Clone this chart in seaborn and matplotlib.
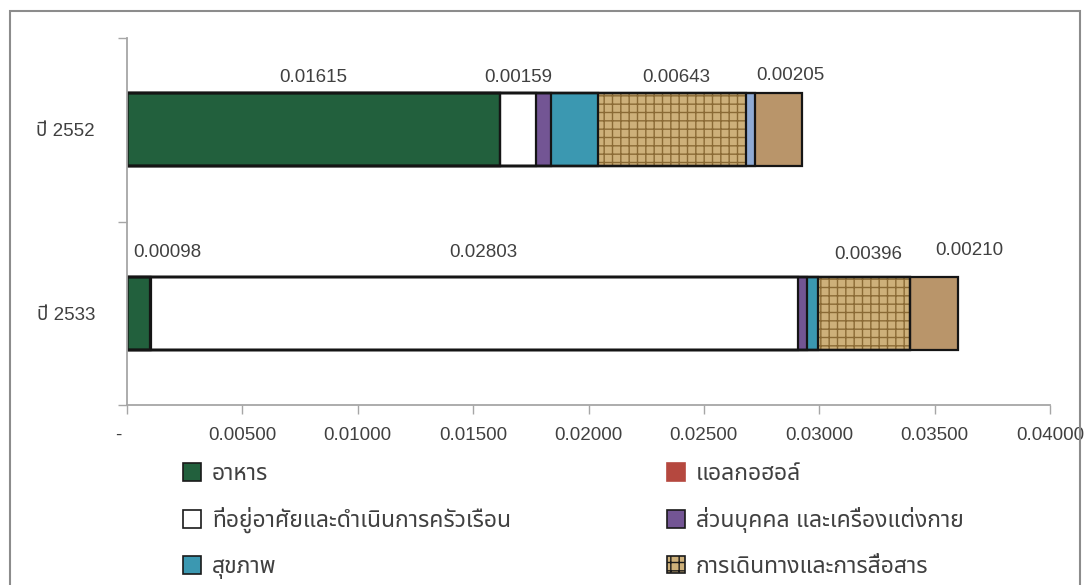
import matplotlib
matplotlib.use("Agg")
import matplotlib.pyplot as plt
from matplotlib.patches import Rectangle, Patch
import seaborn as sns
import pandas as pd
import numpy as np

# ---------------- data ----------------
years = ["ปี 2552", "ปี 2533"]
categories = [
    "อาหาร",
    "แอลกอฮอล์",
    "ที่อยู่อาศัยและดำเนินการครัวเรือน",
    "ส่วนบุคคล และเครื่องแต่งกาย",
    "สุขภาพ",
    "การเดินทางและการสื่อสาร",
    "การศึกษา",
    "การบันเทิงและการอ่าน",
]
values_2552 = [0.01615, 0.0, 0.00159, 0.00063, 0.00204, 0.00643, 0.00038, 0.00205]
values_2533 = [0.00098, 0.00008, 0.02803, 0.00039, 0.00048, 0.00396, 0.0, 0.00210]
labelled_categories = [0, 2, 5, 7]
xticks = [0.0, 0.005, 0.010, 0.015, 0.020, 0.025, 0.030, 0.035, 0.040]
xtick_labels = ["-   ", "0.00500", "0.01000", "0.01500", "0.02000",
                "0.02500", "0.03000", "0.03500", "0.04000"]
legend_col1 = [0, 2, 4]
legend_col2 = [1, 3, 5]

# ---------------- style ----------------
face_colors = ["#22603d", "#b5483f", "#ffffff", "#735594", "#3b98b1",
               "#cdb07a", "#8faad4", "#b9956a"]
hatch_colors = ["#22603d", "#b5483f", "#ffffff", "#735594", "#3b98b1",
                "#8a6a35", "#8faad4", "#9a7648"]
hatches = [None, None, None, None, None, "++", None, None]
# label offsets in pixels (dx, dy above bar top) per row / category
label_offsets = {
    (0, 0): (0, 16), (0, 2): (0, 16), (0, 5): (4, 16), (0, 7): (12, 18),
    (1, 0): (29, 24), (1, 2): (8, 24), (1, 5): (4, 22), (1, 7): (35, 26),
}

sns.set_theme(style="white")
plt.rcParams["font.family"] = ["Liberation Sans", "Noto Sans Thai", "DejaVu Sans"]
FS = 13.5
FS_LEG = 16.5
TXT = "#404040"
AX = "#a6a6a6"

W, H = 1088, 585
fig = plt.figure(figsize=(W / 100, H / 100), dpi=100)
ax = fig.add_axes([127 / W, 1 - 405 / H, (1050 - 127) / W, (405 - 38) / H])

vals = np.array([values_2552, values_2533])
cum = np.cumsum(vals, axis=1)

# fill pass: draw cumulative totals from largest to smallest
for k in range(len(categories) - 1, -1, -1):
    df = pd.DataFrame({"year": years, "total": cum[:, k]})
    sns.barplot(data=df, x="total", y="year", orient="h", ax=ax,
                color=face_colors[k], saturation=1, width=0.4,
                errorbar=None, linewidth=0, edgecolor=hatch_colors[k],
                hatch=hatches[k])

# outline pass
for p in list(ax.patches):
    ax.add_patch(Rectangle(p.get_xy(), p.get_width(), p.get_height(),
                           fill=False, edgecolor="#151515", linewidth=1.6,
                           zorder=p.get_zorder() + 0.1))

# value labels
for r in range(len(years)):
    for k in labelled_categories:
        start = cum[r, k] - vals[r, k]
        xc = start + vals[r, k] / 2
        dx, dy = label_offsets[(r, k)]
        ax.annotate(f"{vals[r, k]:.5f}", xy=(xc, r - 0.2),
                    xytext=(dx * 0.72, dy * 0.72), textcoords="offset points",
                    ha="center", va="center", fontsize=FS, color=TXT)

ax.set_xlim(0, 0.04)
ax.set_ylim(1.5, -0.5)
ax.set_xlabel("")
ax.set_ylabel("")
ax.set_xticks(xticks)
ax.set_xticklabels(xtick_labels)
ax.set_yticks([0, 1])
ax.set_yticklabels(years)
ax.set_yticks([-0.5, 0.5, 1.5], minor=True)
ax.tick_params(axis="x", which="major", length=6.5, width=1.0, color=AX,
               pad=9, labelsize=FS, labelcolor=TXT, bottom=True)
ax.tick_params(axis="y", which="major", length=0, pad=23, labelsize=FS,
               labelcolor=TXT, left=False)
ax.tick_params(axis="y", which="minor", length=6.5, width=1.0, color=AX, left=True)
for s in ["top", "right"]:
    ax.spines[s].set_visible(False)
for s in ["left", "bottom"]:
    ax.spines[s].set_color(AX)
    ax.spines[s].set_linewidth(1.3)

# legend (two columns, as separate legends)
def handle(k):
    ec = "#1a1a1a" if k != 1 else face_colors[k]
    return Patch(facecolor=face_colors[k], edgecolor=ec, hatch=hatches[k], linewidth=1.2)

legkw = dict(frameon=False, fontsize=FS_LEG, handlelength=0.8, handleheight=0.8,
             handletextpad=0.45, labelspacing=0.95, borderpad=0, borderaxespad=0,
             loc="upper left", labelcolor=TXT)
leg1 = fig.legend([handle(k) for k in legend_col1], [categories[k] for k in legend_col1],
                  bbox_to_anchor=(183 / W, 1 - 462 / H), **legkw)
leg2 = fig.legend([handle(k) for k in legend_col2], [categories[k] for k in legend_col2],
                  bbox_to_anchor=(667 / W, 1 - 462 / H), **legkw)

# outer frame (image is cropped at the bottom)
fig.add_artist(Rectangle((10 / W, -0.05), (1080 - 10) / W, 1.05 - 11 / H,
                         transform=fig.transFigure, fill=False,
                         edgecolor="#8c8c8c", linewidth=1.5, clip_on=False))

fig.savefig("out.png", dpi=100)
